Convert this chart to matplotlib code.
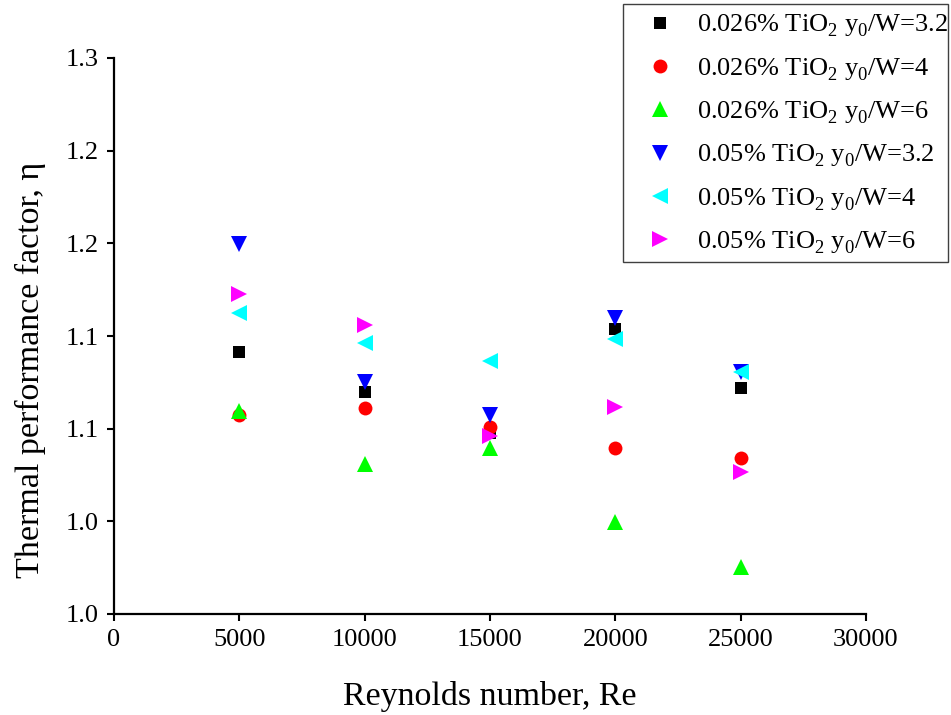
import matplotlib
matplotlib.use("Agg")
import matplotlib.pyplot as plt
from matplotlib.ticker import FixedLocator, FixedFormatter
from matplotlib.patches import Rectangle

try:
    import matplotlib._mathtext as _mt
    _mt.FontConstantsBase.sub1 = 0.45
    _mt.FontConstantsBase.sub2 = 0.6
except Exception:
    pass

plt.rcParams['font.family'] = ['Liberation Serif', 'DejaVu Serif']
plt.rcParams['mathtext.fontset'] = 'custom'
plt.rcParams['mathtext.rm'] = 'Liberation Serif'
plt.rcParams['mathtext.it'] = 'Liberation Serif:italic'

# ---- data ----
reynolds = [5000, 10000, 15000, 20000, 25000]
tio2_026_y32 = [1.1412, 1.1198, 1.0977, 1.1538, 1.1221]
tio2_026_y4 = [1.1074, 1.1110, 1.1008, 1.0894, 1.0840]
tio2_026_y6 = [1.1097, 1.0810, 1.0894, 1.0495, 1.0255]
tio2_05_y32 = [1.1997, 1.1250, 1.1076, 1.1596, 1.1305]
tio2_05_y4 = [1.1626, 1.1460, 1.1365, 1.1482, 1.1307]
tio2_05_y6 = [1.1725, 1.1560, 1.0960, 1.1119, 1.0768]

series_labels = [
    "0.026% TiO$_\\mathrm{2}$ y$_\\mathrm{0}$/W=3.2",
    "0.026% TiO$_\\mathrm{2}$ y$_\\mathrm{0}$/W=4",
    "0.026% TiO$_\\mathrm{2}$ y$_\\mathrm{0}$/W=6",
    "0.05% TiO$_\\mathrm{2}$ y$_\\mathrm{0}$/W=3.2",
    "0.05% TiO$_\\mathrm{2}$ y$_\\mathrm{0}$/W=4",
    "0.05% TiO$_\\mathrm{2}$ y$_\\mathrm{0}$/W=6",
]
x_ticks = [0, 5000, 10000, 15000, 20000, 25000, 30000]
y_ticks = [1.00, 1.05, 1.10, 1.15, 1.20, 1.25, 1.30]
y_tick_labels = ['1.0', '1.0', '1.1', '1.1', '1.2', '1.2', '1.3']

# ---- styles ----
series = [tio2_026_y32, tio2_026_y4, tio2_026_y6, tio2_05_y32, tio2_05_y4, tio2_05_y6]
colors = ['#000000', '#FF0000', '#00FF00', '#0000FF', '#00FFFF', '#FF00FF']
markers = ['s', 'o', '^', 'v', '<', '>']
msizes = [8.6, 10, 11.5, 11.5, 11.5, 11.5]

W, H = 951, 715
fig = plt.figure(figsize=(W / 100, H / 100), dpi=100)
ax = fig.add_axes([114 / W, 1 - 614 / H, (866 - 114) / W, (614 - 58) / H])

for vals, c, m, ms, lab in zip(series, colors, markers, msizes, series_labels):
    ax.plot(reynolds, vals, linestyle='none', marker=m, color=c, markersize=ms,
            markeredgewidth=0, label=lab, clip_on=False)

ax.set_xlim(0, 30000)
ax.set_ylim(1.0, 1.3)
ax.xaxis.set_major_locator(FixedLocator(x_ticks))
ax.yaxis.set_major_locator(FixedLocator(y_ticks))
ax.yaxis.set_major_formatter(FixedFormatter(y_tick_labels))

for s in ['top', 'right']:
    ax.spines[s].set_visible(False)
for s in ['left', 'bottom']:
    ax.spines[s].set_linewidth(1.6)
ax.tick_params(direction='out', length=5, width=1.5, labelsize=19, pad=6)

fig.text(490 / W, 1 - 697 / H, "Reynolds number, Re", ha='center', va='center', fontsize=24.5)
fig.text(30 / W, 1 - 370 / H, "Thermal performance factor, η", ha='center', va='center',
         rotation=90, fontsize=24.5)

leg = fig.legend(loc='upper left', bbox_to_anchor=(647 / W, 1 - 13 / H),
                 fontsize=19, frameon=False, borderpad=0,
                 labelspacing=0.64, handletextpad=0.9, handlelength=1.0,
                 borderaxespad=0)

fig.patches.append(Rectangle((623 / W, 1 - 262 / H), (948 - 623) / W, (262 - 4) / H,
                             transform=fig.transFigure, fill=False,
                             edgecolor='#404040', linewidth=1.0))

fig.savefig("out.png", dpi=100)
